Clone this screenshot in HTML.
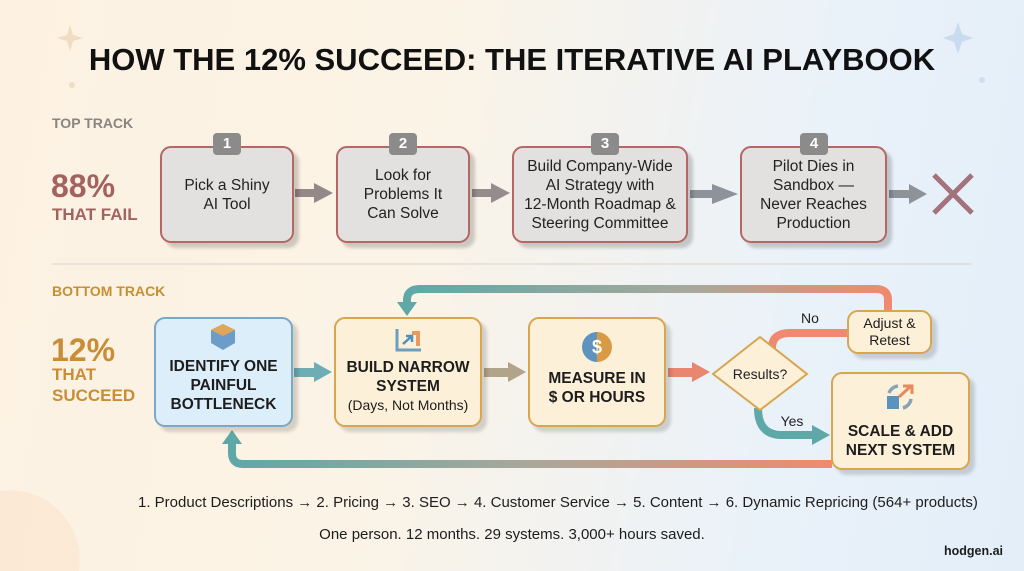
<!DOCTYPE html>
<html><head><meta charset="utf-8"><style>
*{margin:0;padding:0;box-sizing:border-box}
html,body{width:1024px;height:571px;overflow:hidden}
body{font-family:"Liberation Sans",sans-serif;position:relative;
background:linear-gradient(100deg,#fdf2e2 0%,#fbf3e6 40%,#eaf2f9 75%,#e3eef9 100%)}
.a{position:absolute}
.tb{position:absolute;background:#e3e1e0;border:2px solid #b56765;border-radius:11px;box-shadow:5px 5px 3px rgba(0,0,0,.18);display:flex;align-items:center;justify-content:center;text-align:center;font-size:15.5px;line-height:19px;color:#222}
.badge{position:absolute;width:28px;height:22px;background:#8b8b8b;border-radius:4px;color:#fff;font-weight:bold;font-size:15px;text-align:center;line-height:22px}
.bb{position:absolute;border-radius:11px;box-shadow:5px 5px 3px rgba(0,0,0,.15);display:flex;flex-direction:column;align-items:center;justify-content:center;text-align:center;font-weight:bold;font-size:15.5px;line-height:19px;color:#1d1d1d}
.or{background:#fdf0d9;border:2px solid #d7a64f}
</style></head><body>
<svg class="a" style="left:0;top:0" width="1024" height="571">
<defs>
<linearGradient id="g1" x1="0" x2="1"><stop offset="0" stop-color="#5fa8a8"/><stop offset=".6" stop-color="#a9a89a"/><stop offset="1" stop-color="#f08a6e"/></linearGradient>
<linearGradient id="g2" x1="0" x2="1"><stop offset="0" stop-color="#5fa8a8"/><stop offset=".5" stop-color="#a9a89a"/><stop offset="1" stop-color="#f08a6e"/></linearGradient>
</defs>
<path d="M70 25 L73 35 L83 38 L73 41 L70 51 L67 41 L57 38 L67 35Z" fill="#f0dcc0"/>
<path d="M958 22 L962 34 L973 38 L962 42 L958 54 L954 42 L943 38 L954 34Z" fill="#c9dcef"/>
<circle cx="72" cy="85" r="3" fill="#f2dcc2"/><circle cx="982" cy="80" r="3" fill="#cddff0"/>
<path d="M0 491 A70 70 0 0 1 79 571 L0 571Z" fill="#fbe6cf" opacity=".7"/>
<line x1="52" y1="264" x2="972" y2="264" stroke="#e2dcd4" stroke-width="1.5"/>
<g fill="#958888"><rect x="295" y="189" width="20" height="8"/><path d="M314 183 L333 193 L314 203Z"/></g>
<g fill="#958d8d"><rect x="472" y="189" width="20" height="8"/><path d="M491 183 L510 193 L491 203Z"/></g>
<g fill="#8e9399"><rect x="690" y="190" width="24" height="8"/><path d="M712 184 L738 194 L712 204Z"/></g>
<g fill="#8e9399"><rect x="889" y="190" width="22" height="8"/><path d="M909 184 L927 194 L909 204Z"/></g>
<path d="M934 175 L972 213 M972 175 L934 213" stroke="#a2737a" stroke-width="5"/>
<path d="M888 310 L888 300 Q888 289 876 289 L420 289 Q407 289 407 300 L407 304" fill="none" stroke="url(#g1)" stroke-width="8"/>
<path d="M397 302 L417 302 L407 316Z" fill="#5fa8a8"/>
<path d="M832 464 L243 464 Q232 464 232 453 L232 442" fill="none" stroke="url(#g2)" stroke-width="8"/>
<path d="M222 444 L242 444 L232 430Z" fill="#5fa8a8"/>
<g fill="#6fadb4"><rect x="294" y="368" width="22" height="9"/><path d="M314 362 L332 372 L314 382Z"/></g>
<g fill="#b2a38b"><rect x="484" y="368" width="26" height="9"/><path d="M508 362 L526 372 L508 382Z"/></g>
<g fill="#e88670"><rect x="668" y="368" width="28" height="9"/><path d="M692 362 L710 372 L692 382Z"/></g>
<path d="M772 348 Q772 333 790 333 L848 333" fill="none" stroke="#ef8a70" stroke-width="8"/>
<path d="M758 408 Q758 435 782 435 L815 435" fill="none" stroke="#5fa8a8" stroke-width="8"/>
<path d="M812 425 L830 435 L812 445Z" fill="#5fa8a8"/>
<path d="M760 337 L807 374 L760 410 L713 374Z" fill="#fdf0d9" stroke="#d7a64f" stroke-width="2"/>
<text x="760" y="379" text-anchor="middle" font-size="14" fill="#222" font-family="Liberation Sans">Results?</text>
<text x="810" y="323" text-anchor="middle" font-size="14" fill="#222" font-family="Liberation Sans">No</text>
<text x="792" y="426" text-anchor="middle" font-size="14" fill="#222" font-family="Liberation Sans">Yes</text>
</svg>

<div class="a" style="left:0;width:1024px;top:42px;text-align:center;font-weight:bold;font-size:31px;color:#111">HOW THE 12% SUCCEED: THE ITERATIVE AI PLAYBOOK</div>
<div class="a" style="left:52px;top:115px;font-weight:bold;font-size:14px;color:#8a8480">TOP TRACK</div>
<div class="a" style="left:51px;top:168px;font-weight:bold;font-size:32px;color:#a4625f">88%</div>
<div class="a" style="left:52px;top:205px;font-weight:bold;font-size:17px;color:#a4625f">THAT FAIL</div>

<div class="tb" style="left:160px;top:146px;width:134px;height:97px">Pick a Shiny<br>AI Tool</div>
<div class="tb" style="left:336px;top:146px;width:134px;height:97px">Look for<br>Problems It<br>Can Solve</div>
<div class="tb" style="left:512px;top:146px;width:176px;height:97px">Build Company-Wide<br>AI Strategy with<br>12-Month Roadmap &amp;<br>Steering Committee</div>
<div class="tb" style="left:740px;top:146px;width:147px;height:97px">Pilot Dies in<br>Sandbox —<br>Never Reaches<br>Production</div>
<div class="badge" style="left:213px;top:133px">1</div>
<div class="badge" style="left:389px;top:133px">2</div>
<div class="badge" style="left:591px;top:133px">3</div>
<div class="badge" style="left:800px;top:133px">4</div>

<div class="a" style="left:52px;top:283px;font-weight:bold;font-size:14px;color:#c7902f">BOTTOM TRACK</div>
<div class="a" style="left:51px;top:332px;font-weight:bold;font-size:32px;color:#c98d35">12%</div>
<div class="a" style="left:52px;top:364px;font-weight:bold;font-size:17px;line-height:21px;color:#c98d35">THAT<br>SUCCEED</div>

<div class="bb" style="left:154px;top:317px;width:139px;height:110px;background:#ddeefb;border:2px solid #7aa8c8;padding-top:26px">IDENTIFY ONE<br>PAINFUL<br>BOTTLENECK</div>
<svg class="a" style="left:210px;top:323px" width="26" height="28"><path d="M13 1 L25 7 L25 20 L13 27 L1 20 L1 7Z" fill="#6b9dc8"/><path d="M13 1 L25 7 L13 13 L1 7Z" fill="#e0a65a"/></svg>
<div class="bb or" style="left:334px;top:317px;width:148px;height:110px;padding-top:28px">BUILD NARROW<br>SYSTEM<span style="font-weight:normal;font-size:14px">(Days, Not Months)</span></div>
<svg class="a" style="left:394px;top:327px" width="30" height="26"><path d="M3 2 L3 23 L27 23" fill="none" stroke="#6a9fc0" stroke-width="3"/><path d="M18 4 L26 4 L26 19 L22 19 L22 8 L18 8Z" fill="#e89a60"/><path d="M9 17 L18 9 M12 9 L18 9 L18 15" stroke="#4e8fb8" stroke-width="2.5" fill="none"/></svg>
<div class="bb or" style="left:528px;top:317px;width:138px;height:110px;padding-top:32px">MEASURE IN<br>$ OR HOURS</div>
<div class="a" style="left:582px;top:332px;width:30px;height:30px;border-radius:50%;background:linear-gradient(90deg,#5e93bf 50%,#d99a45 50%);color:#fff;font-weight:bold;font-size:18px;text-align:center;line-height:30px">$</div>
<div class="bb or" style="left:847px;top:310px;width:85px;height:44px;font-weight:normal;font-size:14px;line-height:17px">Adjust &amp;<br>Retest</div>
<div class="bb or" style="left:831px;top:372px;width:139px;height:98px;padding-top:40px">SCALE &amp; ADD<br>NEXT SYSTEM</div>
<svg class="a" style="left:885px;top:383px" width="30" height="28"><rect x="2" y="13" width="12" height="13" fill="#5b93bf"/><path d="M4 10 A11 11 0 0 1 13 3" stroke="#8aa2b8" stroke-width="3.5" fill="none"/><path d="M18 25 A11 11 0 0 0 26 16" stroke="#8aa2b8" stroke-width="3.5" fill="none"/><path d="M14 14 L26 3 M18 3 L27 3 L27 11" stroke="#e88a5a" stroke-width="3" fill="none"/></svg>

<div class="a" style="left:138px;top:494px;white-space:nowrap;font-size:15px;color:#1d1d1d">1. Product Descriptions → 2. Pricing → 3. SEO → 4. Customer Service → 5. Content → 6. Dynamic Repricing (564+ products)</div>
<div class="a" style="left:0;width:1024px;top:526px;text-align:center;font-size:15px;color:#1d1d1d">One person. 12 months. 29 systems. 3,000+ hours saved.</div>
<div class="a" style="left:944px;top:544px;font-weight:bold;font-size:12.5px;color:#1d1d1d">hodgen.ai</div>
</body></html>
